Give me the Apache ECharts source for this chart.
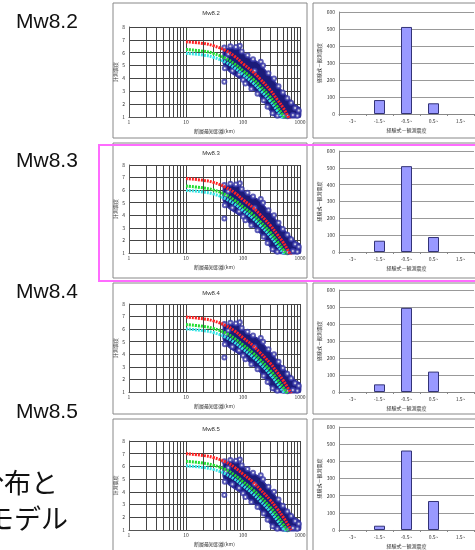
<!DOCTYPE html>
<html>
<head>
<meta charset="utf-8">
<script src="https://cdn.jsdelivr.net/npm/echarts@6/dist/echarts.min.js"></script>
<style>
html, body { margin: 0; padding: 0; background: #fff; }
#main { width: 475px; height: 550px; }
</style>
</head>
<body>
<div id="main"></div>
<script>
// 各段のラベル
const rowLabels = ['Mw8.2', 'Mw8.3', 'Mw8.4', 'Mw8.5'];

// 距離減衰式（赤・緑・水色）の読み取り値
const curveDist = [10, 20, 30, 50, 70, 100, 150, 200, 300, 400, 500, 600, 700];
const redCurves = [
  [6.85, 6.72, 6.55, 6.15, 5.75, 5.15, 4.5, 3.95, 3.1, 2.35, 1.75, 1.15, 0.6],
  [6.92, 6.78, 6.62, 6.22, 5.82, 5.24, 4.6, 4.05, 3.2, 2.47, 1.88, 1.3, 0.75],
  [6.96, 6.82, 6.66, 6.28, 5.88, 5.32, 4.68, 4.12, 3.28, 2.56, 1.96, 1.4, 0.88],
  [7.0, 6.86, 6.7, 6.34, 5.95, 5.4, 4.76, 4.2, 3.36, 2.65, 2.05, 1.5, 1.0]
];
const greenCurves = [
  [6.25, 6.12, 5.95, 5.55, 5.15, 4.6, 3.95, 3.4, 2.55, 1.8, 1.15, 0.6, 0.1],
  [6.32, 6.18, 6.02, 5.62, 5.22, 4.68, 4.05, 3.5, 2.65, 1.92, 1.3, 0.75, 0.25],
  [6.36, 6.22, 6.06, 5.68, 5.28, 4.74, 4.1, 3.56, 2.72, 2.0, 1.4, 0.85, 0.32],
  [6.4, 6.26, 6.1, 5.74, 5.35, 4.8, 4.16, 3.62, 2.8, 2.08, 1.48, 0.95, 0.42]
];
const cyanCurves = [
  [5.95, 5.82, 5.65, 5.25, 4.85, 4.3, 3.65, 3.1, 2.25, 1.5, 0.9, 0.35, -0.2],
  [5.98, 5.85, 5.7, 5.3, 4.92, 4.38, 3.74, 3.2, 2.35, 1.62, 1.02, 0.48, -0.05],
  [6.02, 5.88, 5.73, 5.35, 4.96, 4.42, 3.78, 3.25, 2.4, 1.68, 1.08, 0.55, 0.02],
  [6.05, 5.92, 5.77, 5.4, 5.02, 4.48, 3.84, 3.3, 2.46, 1.75, 1.15, 0.62, 0.1]
];

// 観測震度の分布域（上縁→下縁）
const cloudOutline = [
  [45, 6.0], [47, 6.45], [55, 6.3], [62, 6.45], [70, 6.3], [80, 6.35], [90, 6.2],
  [100, 6.0], [116, 5.7], [135, 5.55], [152, 5.45], [175, 5.3], [200, 5.15],
  [230, 4.8], [261, 4.5], [300, 4.2], [340, 3.9], [390, 3.55], [446, 3.2],
  [510, 2.9], [584, 2.6], [680, 2.3], [764, 2.05], [870, 1.85], [1000, 1.7],
  [1000, 1.0], [375, 1.0], [320, 1.3], [261, 1.9], [230, 2.25], [199, 2.6],
  [165, 3.0], [133, 3.3], [110, 3.75], [89, 4.0], [75, 4.2], [59, 4.5],
  [50, 4.8], [45, 5.2]
];
// 分布域の縁の観測点
const cloudEdge = [
  [47, 6.4], [50, 5.6], [48, 4.8], [47, 3.75], [60, 6.5], [75, 6.45], [88, 6.55],
  [95, 6.1], [85, 4.3], [65, 4.6], [100, 3.9], [110, 3.6], [120, 5.8], [150, 5.5],
  [140, 3.2], [180, 2.8], [205, 5.3], [225, 5.0], [230, 2.3], [280, 4.4],
  [270, 1.8], [330, 1.3], [350, 4.0], [420, 3.4], [400, 1.1], [500, 2.9],
  [600, 2.45], [700, 2.1], [820, 1.7], [950, 1.5], [900, 1.1], [750, 1.15],
  [600, 1.05], [520, 1.1], [55, 5.9], [160, 4.6]
];

// 経験式－観測震度のヒストグラム（空の区間は null）
const binLabels = ['-3~', '-1.5~', '-0.5~', '0.5~', '1.5~'];
const binCounts = [
  [null, 82, 512, 63, null],
  [null, 67, 510, 89, null],
  [null, 45, 495, 120, null],
  [null, 25, 463, 169, null]
];

// 対数軸の補助目盛
const minorTicks = [2, 3, 4, 5, 6, 7, 8, 9, 20, 30, 40, 50, 60, 70, 80, 90,
  200, 300, 400, 500, 600, 700, 800, 900];

// 段ごとの配置
const boxTop = [3, 143, 283, 419];
const boxBot = [138, 278, 414, 553];
const sTop = [27, 165, 304, 441];
const sBot = [117, 253, 392, 530];
const bTop = [12, 151, 290, 427];
const bBot = [114, 252, 392, 530];
const labelY = [22, 161, 292, 412];

const cjk = '"Noto Sans CJK JP", sans-serif';
const tiny = { fontSize: 5, color: '#333', fontFamily: cjk };

const grid = [], xAxis = [], yAxis = [], series = [], graphic = [];

for (let r = 0; r < 4; r++) {
  const gs = 2 * r, gb = 2 * r + 1;
  grid.push({ left: 129, width: 171, top: sTop[r], height: sBot[r] - sTop[r] });
  grid.push({ left: 339, width: 135, top: bTop[r], height: bBot[r] - bTop[r] });

  xAxis.push({
    gridIndex: gs, type: 'log', logBase: 10, min: 1, max: 1000,
    axisLine: { lineStyle: { color: '#555' } },
    axisTick: { show: false },
    axisLabel: Object.assign({ margin: 3, formatter: v => String(v) }, tiny),
    splitLine: { show: true, lineStyle: { color: '#444', width: 1 } },
    name: '断層最短距離(km)', nameLocation: 'middle', nameGap: 12,
    nameTextStyle: tiny
  });
  yAxis.push({
    gridIndex: gs, type: 'value', min: 1, max: 8, interval: 1,
    axisLine: { show: true, lineStyle: { color: '#555' } },
    axisTick: { show: false },
    axisLabel: Object.assign({ margin: 4 }, tiny),
    splitLine: { show: true, lineStyle: { color: '#444', width: 1 } },
    name: '計測震度', nameLocation: 'middle', nameGap: 11, nameRotate: 90,
    nameTextStyle: tiny
  });
  xAxis.push({
    gridIndex: gb, type: 'category', data: binLabels,
    axisLine: { lineStyle: { color: '#888' } },
    axisTick: { show: true, length: 2, lineStyle: { color: '#888' } },
    axisLabel: Object.assign({ margin: 5 }, tiny),
    name: '経験式－観測震度', nameLocation: 'middle', nameGap: 14,
    nameTextStyle: tiny
  });
  yAxis.push({
    gridIndex: gb, type: 'value', min: 0, max: 600, interval: 100,
    axisLine: { show: true, lineStyle: { color: '#888' } },
    axisTick: { show: false },
    axisLabel: Object.assign({ margin: 4 }, tiny),
    splitLine: { show: true, lineStyle: { color: '#999', width: 1 } },
    name: '経験式－観測震度', nameLocation: 'middle', nameGap: 17, nameRotate: 90,
    nameTextStyle: tiny
  });

  // 観測値の分布域
  series.push({
    type: 'custom', xAxisIndex: gs, yAxisIndex: gs, z: 2, silent: true,
    data: [[100, 4]],
    renderItem: function (params, api) {
      return {
        type: 'polygon',
        shape: { points: cloudOutline.map(p => api.coord(p)), smooth: 0.2 },
        style: { fill: '#1b1b7a', stroke: '#30309c', lineWidth: 1.5 }
      };
    },
    markLine: {
      z: 1, silent: true, symbol: ['none', 'none'], label: { show: false },
      lineStyle: { color: '#444', width: 1, type: 'solid' },
      data: minorTicks.map(v => ({ xAxis: v }))
    }
  });
  series.push({
    type: 'scatter', xAxisIndex: gs, yAxisIndex: gs, z: 3, silent: true,
    symbol: 'emptyCircle', symbolSize: 4,
    itemStyle: { color: '#3636a6', borderWidth: 0.8 },
    data: cloudEdge
  });

  const curves = [[cyanCurves, '#38e4e4'], [greenCurves, '#22dd33'], [redCurves, '#ff2424']];
  curves.forEach(function (c, k) {
    series.push({
      type: 'line', xAxisIndex: gs, yAxisIndex: gs, z: 4 + k, silent: true,
      showSymbol: false, smooth: true, clip: true,
      lineStyle: { color: c[1], width: 3, type: [2, 1] },
      data: curveDist.map((d, i) => [d, c[0][r][i]])
    });
  });

  series.push({
    type: 'bar', xAxisIndex: gb, yAxisIndex: gb, barWidth: 11, silent: true,
    itemStyle: { color: '#9999ff', borderColor: '#333377', borderWidth: 1 },
    data: binCounts[r]
  });

  // 枠
  graphic.push({
    type: 'rect', z: 10, silent: true,
    shape: { x: 113, y: boxTop[r], width: 194, height: boxBot[r] - boxTop[r] },
    style: { fill: 'none', stroke: '#888', lineWidth: 1 }
  });
  graphic.push({
    type: 'rect', z: 10, silent: true,
    shape: { x: 313, y: boxTop[r], width: 180, height: boxBot[r] - boxTop[r] },
    style: { fill: 'none', stroke: '#888', lineWidth: 1 }
  });
  graphic.push({
    type: 'text', z: 10, silent: true, x: 211, y: boxTop[r] + 10,
    style: { text: rowLabels[r], fontSize: 6, fill: '#333', fontFamily: 'Liberation Sans',
      align: 'center', verticalAlign: 'middle' }
  });
  graphic.push({
    type: 'text', z: 10, silent: true, x: 16, y: labelY[r],
    style: { text: rowLabels[r], fontSize: 21, fill: '#111', fontFamily: 'Liberation Sans',
      verticalAlign: 'middle' }
  });
}

// Mw8.3 の強調枠
graphic.push({
  type: 'rect', z: 11, silent: true,
  shape: { x: 99, y: 145, width: 400, height: 136 },
  style: { fill: 'none', stroke: '#ff6cff', lineWidth: 2 }
});
graphic.push({
  type: 'text', z: 11, silent: true, x: 58, y: 483,
  style: { text: '分布と', fontSize: 27, fill: '#111', fontFamily: cjk,
    align: 'right', verticalAlign: 'middle' }
});
graphic.push({
  type: 'text', z: 11, silent: true, x: 68, y: 519,
  style: { text: 'モデル', fontSize: 27, fill: '#111', fontFamily: cjk,
    align: 'right', verticalAlign: 'middle' }
});

const chart = echarts.init(document.getElementById('main'), null, { renderer: 'canvas' });
chart.setOption({
  animation: false,
  backgroundColor: '#fff',
  grid: grid,
  xAxis: xAxis,
  yAxis: yAxis,
  series: series,
  graphic: graphic
});
</script>
</body>
</html>
